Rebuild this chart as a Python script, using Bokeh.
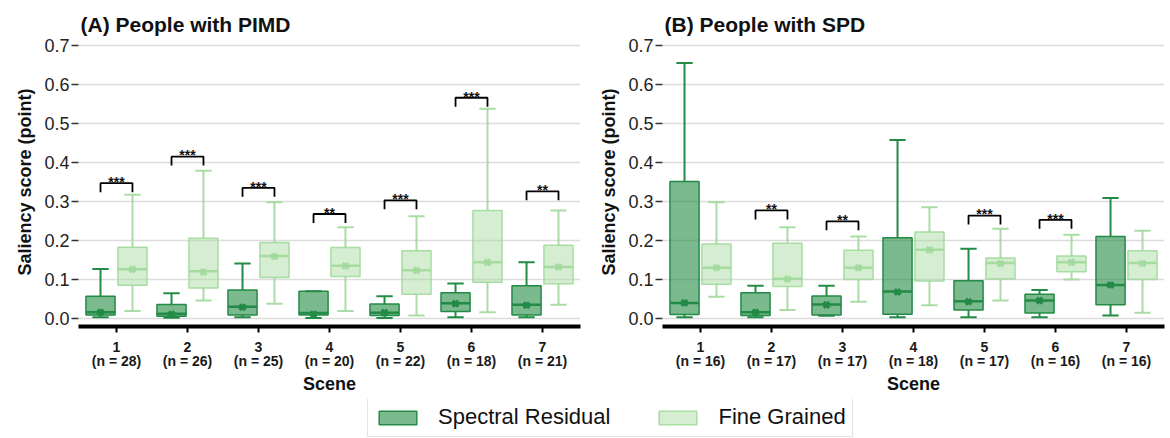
from bokeh.plotting import figure
from bokeh.layouts import column, row
from bokeh.models import Range1d, FixedTicker, PrintfTickFormatter, Legend, LegendItem, LinearAxis
from bokeh.embed import file_html
from bokeh.resources import INLINE

FONT = "Liberation Sans"

scenes = [1, 2, 3, 4, 5, 6, 7]
n_pimd = [28, 26, 25, 20, 22, 18, 21]
n_spd = [16, 17, 17, 18, 17, 16, 16]

# (A) People with PIMD - Spectral Residual
pimd_sr_low = [0.003, 0.002, 0.003, 0.001, 0.001, 0.003, 0.003]
pimd_sr_q1 = [0.009, 0.006, 0.009, 0.009, 0.008, 0.018, 0.009]
pimd_sr_med = [0.016, 0.012, 0.030, 0.014, 0.015, 0.039, 0.035]
pimd_sr_q3 = [0.057, 0.036, 0.073, 0.070, 0.037, 0.066, 0.084]
pimd_sr_high = [0.127, 0.065, 0.141, 0.070, 0.057, 0.090, 0.144]
pimd_sr_mean = [0.016, 0.011, 0.029, 0.011, 0.015, 0.038, 0.034]
# (A) People with PIMD - Fine Grained
pimd_fg_low = [0.019, 0.046, 0.038, 0.019, 0.008, 0.016, 0.035]
pimd_fg_q1 = [0.085, 0.078, 0.105, 0.108, 0.062, 0.093, 0.089]
pimd_fg_med = [0.126, 0.121, 0.160, 0.135, 0.124, 0.144, 0.132]
pimd_fg_q3 = [0.183, 0.206, 0.195, 0.182, 0.174, 0.277, 0.188]
pimd_fg_high = [0.317, 0.379, 0.298, 0.234, 0.262, 0.538, 0.277]
pimd_fg_mean = [0.126, 0.119, 0.159, 0.135, 0.123, 0.144, 0.132]
# (A) significance
pimd_sig_scenes = [1, 2, 3, 4, 5, 6, 7]
pimd_sig_labels = ["***", "***", "***", "**", "***", "***", "**"]
pimd_sig_y = [0.347, 0.415, 0.335, 0.268, 0.303, 0.566, 0.326]

# (B) People with SPD - Spectral Residual
spd_sr_low = [0.003, 0.003, 0.007, 0.003, 0.003, 0.003, 0.008]
spd_sr_q1 = [0.010, 0.008, 0.009, 0.011, 0.022, 0.014, 0.035]
spd_sr_med = [0.040, 0.016, 0.036, 0.069, 0.044, 0.046, 0.086]
spd_sr_q3 = [0.351, 0.066, 0.058, 0.207, 0.097, 0.062, 0.210]
spd_sr_high = [0.655, 0.084, 0.084, 0.458, 0.179, 0.073, 0.309]
spd_sr_mean = [0.040, 0.016, 0.035, 0.068, 0.043, 0.046, 0.086]
# (B) People with SPD - Fine Grained
spd_fg_low = [0.056, 0.022, 0.043, 0.034, 0.046, 0.100, 0.015]
spd_fg_q1 = [0.088, 0.082, 0.100, 0.096, 0.101, 0.120, 0.100]
spd_fg_med = [0.130, 0.102, 0.130, 0.176, 0.142, 0.144, 0.142]
spd_fg_q3 = [0.191, 0.193, 0.175, 0.222, 0.155, 0.160, 0.174]
spd_fg_high = [0.298, 0.234, 0.210, 0.285, 0.230, 0.215, 0.225]
spd_fg_mean = [0.130, 0.101, 0.130, 0.176, 0.141, 0.144, 0.141]
# (B) significance
spd_sig_scenes = [2, 3, 5, 6]
spd_sig_labels = ["**", "**", "***", "***"]
spd_sig_y = [0.277, 0.249, 0.264, 0.253]

y_ticks = [0.0, 0.1, 0.2, 0.3, 0.4, 0.5, 0.6, 0.7]

SR_LINE = "#238b45"
SR_FILL = "#238b45"
FG_LINE = "#a1d99b"
FG_FILL = "#a1d99b"

OFF = 0.225
BOX_W = 0.41
CAP_W = 0.23
LEG = 0.023


def draw_boxes(p, offset, low, q1, med, q3, high, mean, line, fill, falpha, lalpha):
    x = [s + offset for s in scenes]
    p.segment(x0=x, y0=q3, x1=x, y1=high, line_color=line, line_width=2, line_alpha=lalpha)
    p.segment(x0=x, y0=q1, x1=x, y1=low, line_color=line, line_width=2, line_alpha=lalpha)
    xl = [v - CAP_W / 2 for v in x]
    xr = [v + CAP_W / 2 for v in x]
    p.segment(x0=xl, y0=high, x1=xr, y1=high, line_color=line, line_width=2, line_alpha=lalpha)
    p.segment(x0=xl, y0=low, x1=xr, y1=low, line_color=line, line_width=2, line_alpha=lalpha)
    p.vbar(x=x, width=BOX_W, top=q3, bottom=q1, fill_color=fill, fill_alpha=falpha,
           line_color=line, line_width=1.5, line_alpha=lalpha)
    bl = [v - BOX_W / 2 for v in x]
    br = [v + BOX_W / 2 for v in x]
    p.segment(x0=bl, y0=med, x1=br, y1=med, line_color=line, line_width=2.5, line_alpha=lalpha)
    p.scatter(x=x, y=mean, marker="x", size=8, line_color=line, line_width=3.5, line_alpha=lalpha)


def style_text_axis(ax, size):
    ax.major_label_text_font = FONT
    ax.major_label_text_font_size = size
    ax.major_label_text_font_style = "bold"
    ax.major_label_text_color = "#1a1a1a"


def make_panel(title, n_list, sr, fg, sig_scenes, sig_labels, sig_y, width, left, right):
    p = figure(width=width, height=399, x_range=Range1d(0.465, 7.535),
               y_range=Range1d(-0.0205, 0.7205), output_backend="svg",
               toolbar_location=None, min_border_left=left, min_border_right=right,
               min_border_top=37, min_border_bottom=73)
    p.title.text = title
    p.title.text_font = FONT
    p.title.text_font_size = "21px"
    p.title.text_font_style = "bold"
    p.title.text_color = "#111111"
    p.title.align = "left"
    p.title.offset = 2
    p.title.standoff = 4
    p.outline_line_color = None
    p.background_fill_color = "white"
    p.border_fill_color = "white"

    p.xgrid.grid_line_color = None
    p.ygrid.ticker = FixedTicker(ticks=y_ticks)
    p.ygrid.grid_line_color = "#dcdcdc"
    p.ygrid.grid_line_width = 1.5

    p.yaxis.ticker = FixedTicker(ticks=y_ticks)
    p.yaxis.formatter = PrintfTickFormatter(format="%.1f")
    p.yaxis.axis_line_color = None
    p.yaxis.major_tick_out = 7
    p.yaxis.major_tick_in = 0
    p.yaxis.major_tick_line_color = "#333333"
    p.yaxis.major_tick_line_width = 1.5
    p.yaxis.minor_tick_line_color = None
    p.yaxis.major_label_text_font = FONT
    p.yaxis.major_label_text_font_size = "18px"
    p.yaxis.major_label_text_color = "#222222"
    p.yaxis.major_label_standoff = 2
    p.yaxis.axis_label = "Saliency score (point)"
    p.yaxis.axis_label_text_font = FONT
    p.yaxis.axis_label_text_font_size = "18px"
    p.yaxis.axis_label_text_font_style = "bold"
    p.yaxis.axis_label_text_color = "#111111"
    p.yaxis.axis_label_standoff = 6

    # primary x axis: scene numbers
    p.xaxis.ticker = FixedTicker(ticks=scenes)
    p.xaxis.axis_line_width = 4
    p.xaxis.axis_line_color = "black"
    p.xaxis.major_tick_out = 6
    p.xaxis.major_tick_in = 0
    p.xaxis.major_tick_line_width = 2
    p.xaxis.major_tick_line_color = "black"
    p.xaxis.minor_tick_line_color = None
    style_text_axis(p.xaxis[0], "14px")
    p.xaxis.major_label_standoff = 9

    # secondary x axis: group sizes + axis title
    ax2 = LinearAxis(ticker=FixedTicker(ticks=scenes))
    ax2.major_label_overrides = {s: f"(n = {n})" for s, n in zip(scenes, n_list)}
    ax2.axis_line_color = None
    ax2.major_tick_line_color = None
    ax2.minor_tick_line_color = None
    ax2.major_tick_out = 0
    ax2.major_tick_in = 0
    ax2.major_label_standoff = -2
    style_text_axis(ax2, "14px")
    ax2.axis_label = "Scene"
    ax2.axis_label_text_font = FONT
    ax2.axis_label_text_font_size = "18px"
    ax2.axis_label_text_font_style = "bold"
    ax2.axis_label_text_color = "#111111"
    ax2.axis_label_standoff = 2
    p.add_layout(ax2, "below")

    draw_boxes(p, -OFF, *sr, SR_LINE, SR_FILL, 0.6, 1.0)
    draw_boxes(p, OFF, *fg, FG_LINE, FG_FILL, 0.45, 0.9)

    xs, ys = [], []
    for s, y in zip(sig_scenes, sig_y):
        xs.append([s - OFF, s - OFF, s + OFF, s + OFF])
        ys.append([y - LEG, y, y, y - LEG])
    p.multi_line(xs=xs, ys=ys, line_color="black", line_width=1.8)
    p.text(x=sig_scenes, y=[y + 0.003 for y in sig_y], text=sig_labels,
           text_align="center", text_baseline="alphabetic", text_font_size="14px",
           text_font_style="bold", text_color="#111111")
    return p


pA = make_panel("(A) People with PIMD", n_pimd,
                (pimd_sr_low, pimd_sr_q1, pimd_sr_med, pimd_sr_q3, pimd_sr_high, pimd_sr_mean),
                (pimd_fg_low, pimd_fg_q1, pimd_fg_med, pimd_fg_q3, pimd_fg_high, pimd_fg_mean),
                pimd_sig_scenes, pimd_sig_labels, pimd_sig_y, 590, 78, 10)
pB = make_panel("(B) People with SPD", n_spd,
                (spd_sr_low, spd_sr_q1, spd_sr_med, spd_sr_q3, spd_sr_high, spd_sr_mean),
                (spd_fg_low, spd_fg_q1, spd_fg_med, spd_fg_q3, spd_fg_high, spd_fg_mean),
                spd_sig_scenes, spd_sig_labels, spd_sig_y, 580, 72, 6)

# legend strip
pl = figure(width=1170, height=39, x_range=Range1d(0, 1), y_range=Range1d(0, 1),
            toolbar_location=None, output_backend="svg", min_border=0,
            x_axis_location=None, y_axis_location=None)
pl.outline_line_color = None
pl.xgrid.grid_line_color = None
pl.ygrid.grid_line_color = None
r1 = pl.quad(left=[5], right=[6], top=[5], bottom=[4], fill_color=SR_FILL, fill_alpha=0.6,
             line_color=SR_LINE, line_width=1.5)
r2 = pl.quad(left=[5], right=[6], top=[5], bottom=[4], fill_color=FG_FILL, fill_alpha=0.45,
             line_color=FG_LINE, line_alpha=0.9, line_width=1.5)
leg = Legend(items=[LegendItem(label="Spectral Residual", renderers=[r1]),
                    LegendItem(label="Fine Grained", renderers=[r2])],
             orientation="horizontal", location=(367, 1))
leg.label_text_font = FONT
leg.label_text_font_size = "22px"
leg.label_text_color = "#111111"
leg.glyph_width = 47
leg.glyph_height = 17
leg.label_standoff = 17
leg.spacing = 44
leg.padding = 6
leg.margin = 0
leg.border_line_color = "#c8c8c8"
leg.border_line_width = 1.5
pl.add_layout(leg, "center")

layout = column(row(pA, pB), pl)
open("out.html", "w").write(file_html(layout, INLINE))
